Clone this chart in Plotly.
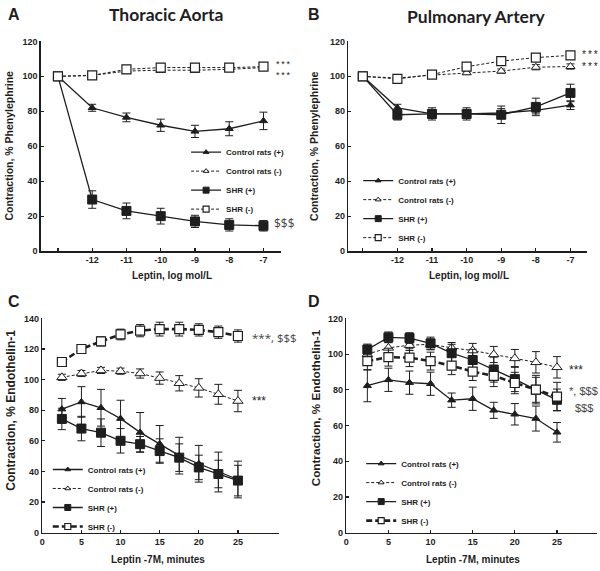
import plotly.graph_objects as go

W, H = 600, 571

# ---------------- data ----------------
log_x = [-13, -12, -11, -10, -9, -8, -7]
log_tickvals = [-13, -12, -11, -10, -9, -8, -7]
log_ticktext = ["", "-12", "-11", "-10", "-9", "-8", "-7"]

# Panel A - Thoracic Aorta (% phenylephrine)
A_ctrl_plus = [100, 82, 76.5, 72, 68.5, 70, 74.5]
A_ctrl_plus_err = [0, 2, 2.5, 3.5, 3.5, 4, 5]
A_ctrl_minus = [100, 100.5, 103, 103.5, 103.5, 104, 105]
A_ctrl_minus_err = [0, 1, 1, 1, 1, 1, 1.5]
A_shr_plus = [100, 29.5, 23, 20, 17, 15, 14.5]
A_shr_plus_err = [0, 5, 4.5, 4.5, 3.5, 3.5, 3]
A_shr_minus = [100, 100.5, 104, 105, 105, 105, 105.5]
A_shr_minus_err = [0, 1, 1, 1, 1, 1, 1.5]

# Panel B - Pulmonary Artery
B_ctrl_plus = [100, 82, 78.5, 78.5, 79, 80.5, 83.5]
B_ctrl_plus_err = [0, 2, 2.5, 2.5, 2.5, 2, 2.5]
B_ctrl_minus = [100, 99, 100.7, 102, 103, 105.2, 105.6]
B_ctrl_minus_err = [0, 1, 1, 1, 1.2, 1.5, 1.5]
B_shr_plus = [100, 78, 78.5, 78.5, 78, 82.5, 90.5]
B_shr_plus_err = [0, 3, 3.5, 3.5, 5, 5, 5]
B_shr_minus = [100, 98.5, 101, 105.5, 108.7, 110.7, 112]
B_shr_minus_err = [0, 1, 1, 1, 1, 1, 1]

minutes = [2.5, 5, 7.5, 10, 12.5, 15, 17.5, 20, 22.5, 25]

# Panel C - Thoracic Aorta (% endothelin-1)
C_ctrl_plus = [80.7, 85.4, 81.6, 74.5, 65.5, 58, 50.3, 45, 39.6, 34.7]
C_ctrl_plus_err = [7, 10, 12, 12, 13, 12, 12, 12, 13, 12]
C_ctrl_minus = [101.5, 104, 106, 105.5, 104, 101, 97.6, 94.6, 90.4, 86]
C_ctrl_minus_err = [2, 2, 2, 2, 3, 4, 5, 6, 6.5, 7]
C_shr_plus = [74.3, 68, 65.3, 60, 57.8, 53.3, 49, 42.6, 38.3, 34]
C_shr_plus_err = [7, 8, 9, 8, 5, 8, 9, 8, 9, 10]
C_shr_minus = [111.5, 120, 125, 129.5, 132, 133, 133, 132.5, 131, 128.5]
C_shr_minus_err = [1, 1.5, 3, 3.5, 4, 4.5, 4.5, 4, 4, 4]

# Panel D - Pulmonary Artery (% endothelin-1)
D_ctrl_plus = [82.3, 85.6, 84, 83.4, 74.2, 75, 68.5, 66.3, 63.9, 56.2]
D_ctrl_plus_err = [9, 6.5, 6.5, 6.5, 4, 6.5, 4.5, 6, 7, 5.5]
D_ctrl_minus = [100, 103.5, 105, 105.5, 103.5, 102, 99.8, 97.6, 95.4, 92.6]
D_ctrl_minus_err = [2, 3, 3, 3, 3, 4, 4.5, 5, 6, 6]
D_shr_plus = [102.6, 109.4, 109, 106, 100.5, 96.7, 91.3, 86, 80, 74.4]
D_shr_plus_err = [3, 3, 3, 3.5, 5, 6, 7, 7, 7, 6]
D_shr_minus = [96.1, 98.3, 98, 96.1, 93.5, 90.2, 87.8, 83.8, 80.1, 76.2]
D_shr_minus_err = [5, 5, 5, 5, 5, 5, 6, 6, 8, 8]

series_names = ["Control rats (+)", "Control rats (-)", "SHR (+)", "SHR (-)"]

# ---------------- styling ----------------
INK = "#1e1e1e"
BOLD = "Liberation Sans"
TITLE_FONT = "Lato"

def px(x):
    return x / W

def py(y):
    return 1 - y / H

fig = go.Figure()

def styles_for(thick):
    return [
        dict(line=dict(color=INK, width=1.3, dash="solid"),
             marker=dict(symbol="triangle-up", size=7, color=INK, line=dict(color=INK, width=1))),
        dict(line=dict(color=INK, width=1, dash="3px,2px"),
             marker=dict(symbol="triangle-up", size=(9 if thick else 8), color="white", line=dict(color=INK, width=1))),
        dict(line=dict(color=INK, width=1.3, dash="solid"),
             marker=dict(symbol="square", size=9, color=INK, line=dict(color=INK, width=1))),
        dict(line=dict(color=INK, width=(2.6 if thick else 1), dash=("6px,3px" if thick else "3px,2px")),
             marker=dict(symbol="square", size=9, color="white", line=dict(color=INK, width=1.2))),
    ]

def add_panel(xs, data, errs, ax, leg, thick):
    xa = "x" if ax == 1 else f"x{ax}"
    ya = "y" if ax == 1 else f"y{ax}"
    sts = styles_for(thick)
    for name, ys, es, st in zip(series_names, data, errs, sts):
        fig.add_trace(go.Scatter(
            x=xs, y=ys, name=name, mode="lines+markers",
            line=st["line"], marker=st["marker"],
            error_y=dict(type="data", array=es, color=INK, thickness=1, width=4),
            xaxis=xa, yaxis=ya, showlegend=False,
        ))
    # legend entries (smaller symbols, as in the original legend)
    for name, st in zip(series_names, sts):
        m = dict(st["marker"])
        m["size"] = 5 if "triangle" in m["symbol"] else 6
        fig.add_trace(go.Scatter(
            x=[None], y=[None], name=name, mode="lines+markers",
            line=st["line"], marker=m, xaxis=xa, yaxis=ya, legend=leg, showlegend=True,
        ))

add_panel(log_x, [A_ctrl_plus, A_ctrl_minus, A_shr_plus, A_shr_minus],
          [A_ctrl_plus_err, A_ctrl_minus_err, A_shr_plus_err, A_shr_minus_err], 1, "legend", False)
add_panel(log_x, [B_ctrl_plus, B_ctrl_minus, B_shr_plus, B_shr_minus],
          [B_ctrl_plus_err, B_ctrl_minus_err, B_shr_plus_err, B_shr_minus_err], 2, "legend2", False)
add_panel(minutes, [C_ctrl_plus, C_ctrl_minus, C_shr_plus, C_shr_minus],
          [C_ctrl_plus_err, C_ctrl_minus_err, C_shr_plus_err, C_shr_minus_err], 3, "legend3", True)
add_panel(minutes, [D_ctrl_plus, D_ctrl_minus, D_shr_plus, D_shr_minus],
          [D_ctrl_plus_err, D_ctrl_minus_err, D_shr_plus_err, D_shr_minus_err], 4, "legend4", True)

tickfont = dict(family=BOLD, size=9, color=INK, weight="bold")

def xaxis(domain, rng, **kw):
    d = dict(domain=domain, range=rng, showline=True, linecolor=INK, linewidth=1.5,
             ticks="inside", ticklen=3, tickcolor=INK, tickwidth=1.2,
             showgrid=False, zeroline=False, tickfont=tickfont, fixedrange=True)
    d.update(kw)
    return d

def yaxis(domain, rng, dtick, anchor):
    return dict(domain=domain, range=rng, showline=True, linecolor=INK, linewidth=1.5,
                ticks="inside", ticklen=3, tickcolor=INK, tickwidth=1.2, dtick=dtick, tick0=0,
                showgrid=False, zeroline=False, tickfont=tickfont, anchor=anchor, fixedrange=True)

dom_A_x = [px(38), px(279)]
dom_B_x = [px(347), px(587)]
dom_top_y = [py(250.5), py(37)]
dom_C_x = [px(39.5), px(277)]
dom_D_x = [px(345), px(597)]
dom_bot_y = [py(537), py(319)]

legend_common = dict(font=dict(family=BOLD, size=8, color=INK, weight="bold"), bgcolor="rgba(0,0,0,0)",
                     itemwidth=30, tracegroupgap=0, xanchor="left", yanchor="top",
                     itemclick=False, itemdoubleclick=False)

fig.update_layout(
    width=W, height=H, margin=dict(l=0, r=0, t=0, b=0),
    paper_bgcolor="white", plot_bgcolor="white",
    xaxis=xaxis(dom_A_x, [-13.5, -6.5], tickvals=log_tickvals, ticktext=log_ticktext, anchor="y"),
    yaxis=yaxis(dom_top_y, [0, 120], 20, "x"),
    xaxis2=xaxis(dom_B_x, [-13.42, -6.52], tickvals=log_tickvals, ticktext=log_ticktext, anchor="y2"),
    yaxis2=yaxis(dom_top_y, [0, 120], 20, "x2"),
    xaxis3=xaxis(dom_C_x, [0, 30.2], tickvals=[0, 5, 10, 15, 20, 25], anchor="y3"),
    yaxis3=yaxis(dom_bot_y, [0, 140], 20, "x3"),
    xaxis4=xaxis(dom_D_x, [0, 29.75], tickvals=[0, 5, 10, 15, 20, 25], anchor="y4"),
    yaxis4=yaxis(dom_bot_y, [0, 120], 20, "x4"),
    legend=dict(x=px(184), y=py(135), **legend_common),
    legend2=dict(x=px(357), y=py(164), **legend_common),
    legend3=dict(x=px(45), y=py(458), **legend_common),
    legend4=dict(x=px(360), y=py(452), **legend_common),
    showlegend=True,
    hovermode=False,
)

ann = []
def text(x, y, s, size, family=BOLD, xanchor="center", yanchor="middle", angle=0, color=INK):
    ann.append(dict(x=px(x), y=py(y), xref="paper", yref="paper", text=s, showarrow=False,
                    xanchor=xanchor, yanchor=yanchor, textangle=angle,
                    font=dict(family=family, size=size, color=color)))

# panel letters and titles
text(3, 10, "<b>A</b>", 16, xanchor="left")
text(305, 10, "<b>B</b>", 16, xanchor="left")
text(3, 302, "<b>C</b>", 16, xanchor="left")
text(305, 302, "<b>D</b>", 16, xanchor="left")
text(164, 10, "<b>Thoracic Aorta</b>", 17.5, family=TITLE_FONT)
text(475, 12, "<b>Pulmonary Artery</b>", 17.5, family=TITLE_FONT)

# axis titles
text(170, 275, "<b>Leptin, log mol/L</b>", 10)
text(468, 275, "<b>Leptin, log mol/L</b>", 10)
text(156, 564, "<b>Leptin -7M, minutes</b>", 10)
text(472, 564, "<b>Leptin -7M, minutes</b>", 10)
text(7, 143, "<b>Contraction, % Phenylephrine</b>", 10.5, angle=-90)
text(313, 143, "<b>Contraction, % Phenylephrine</b>", 10.5, angle=-90)
text(8, 412, "<b>Contraction, % Endothelin-1</b>", 12, angle=-90)
text(314, 410, "<b>Contraction, % Endothelin-1</b>", 11.7, angle=-90)

# significance marks
STARS = "*\u2009*\u2009*"
text(272, 60, STARS, 9, xanchor="left")
text(272, 71, STARS, 9, xanchor="left")
text(270, 222, "$$$", 12, family="Open Sans", xanchor="left", color="#444")
text(580, 50, STARS, 10, xanchor="left")
text(580, 62.5, STARS, 10, xanchor="left")
text(248, 338, "***, $$$", 11.5, family="Open Sans", xanchor="left", color="#444")
text(248, 403, "***", 12, xanchor="left")
text(567, 371, "***", 12, xanchor="left")
text(567, 393, "*, $$$", 11, xanchor="left", color="#444")
text(573, 410, "$$$", 11, xanchor="left", color="#444")

fig.update_layout(annotations=ann)

fig.write_html(
    "out.html",
    config={"displayModeBar": False, "staticPlot": True},
    post_script="document.body.style.margin='0';document.body.style.overflow='hidden';",
)
